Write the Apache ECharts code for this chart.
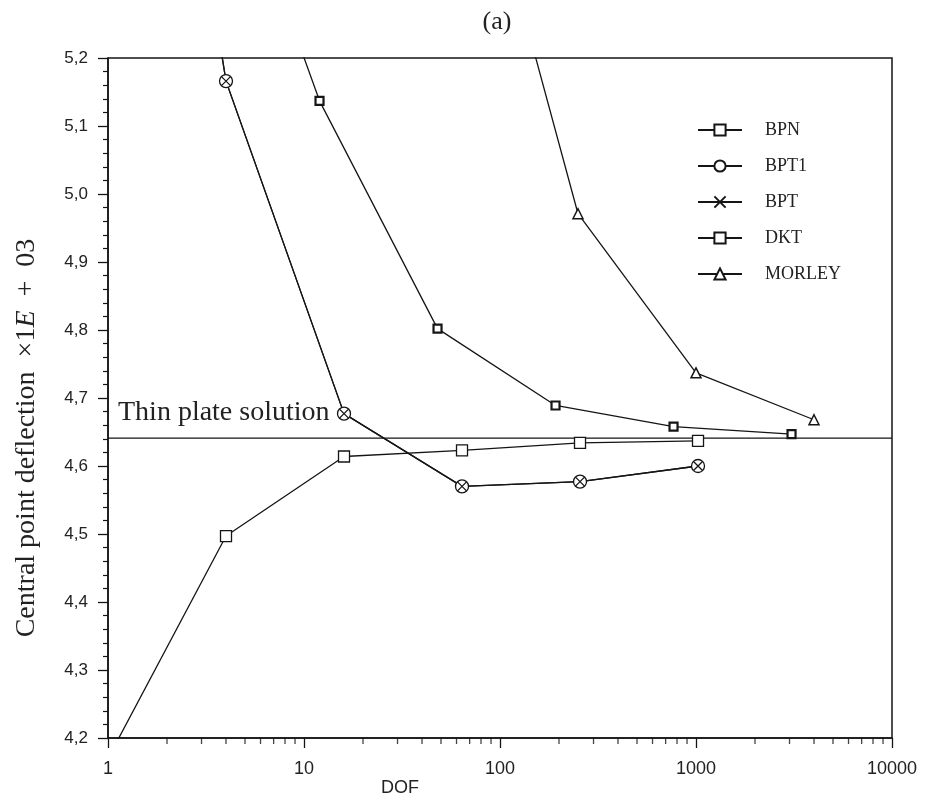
<!DOCTYPE html>
<html>
<head>
<meta charset="utf-8">
<script src="https://cdn.jsdelivr.net/npm/echarts@6/dist/echarts.min.js"></script>
<style>
html,body{margin:0;padding:0;background:#fff;}
#chart{width:936px;height:803px;}
</style>
</head>
<body>
<div id="chart"></div>
<script>
// ---- data ----
const bpnX = [1, 4, 16, 64, 256, 1024];
const bpnY = [4.17, 4.497, 4.614, 4.623, 4.634, 4.637];

const bptX = [1, 4, 16, 64, 256, 1024];
const bptY = [6.25, 5.166, 4.677, 4.570, 4.577, 4.600];

const dktX = [3, 12, 48, 192, 768, 3072];
const dktY = [5.62, 5.137, 4.802, 4.689, 4.658, 4.647];

const morleyX = [60, 250, 1000, 4000];
const morleyY = [5.63, 4.971, 4.737, 4.668];

const thinPlateX = [1, 10000];
const thinPlateY = [4.641, 4.641];

const xMinorTicks = [2,3,4,5,6,7,8,9, 20,30,40,50,60,70,80,90,
  200,300,400,500,600,700,800,900, 2000,3000,4000,5000,6000,7000,8000,9000];

const seriesNames = ['BPN', 'BPT1', 'BPT', 'DKT', 'MORLEY'];

const pair = (xs, ys) => xs.map((x, i) => [x, ys[i]]);
const ink = '#151515';

const chart = echarts.init(document.getElementById('chart'), null, {renderer: 'canvas'});

function lineSeries(name, xs, ys, symbol, size, bw) {
  return {
    name: name, type: 'line', data: pair(xs, ys),
    symbol: symbol, symbolSize: size, showSymbol: true, clip: true,
    lineStyle: {color: ink, width: 1.3},
    itemStyle: {color: '#fff', borderColor: ink, borderWidth: bw},
    emphasis: {disabled: true}
  };
}

chart.setOption({
  animation: false,
  backgroundColor: '#fff',
  grid: {left: 108, right: 44, top: 58, bottom: 65, show: true,
         borderColor: ink, borderWidth: 1.5, backgroundColor: 'transparent'},
  xAxis: {
    type: 'log', logBase: 10, min: 1, max: 10000,
    axisLine: {show: true, lineStyle: {color: ink, width: 1.5}},
    axisTick: {show: true, inside: false, length: 10, lineStyle: {color: ink, width: 1.3}},
    axisLabel: {margin: 22, fontSize: 18, fontFamily: 'Liberation Sans', color: '#222',
                formatter: v => String(Math.round(v))},
    splitLine: {show: false}, minorTick: {show: false}, minorSplitLine: {show: false}
  },
  yAxis: {
    type: 'value', min: 4.2, max: 5.2, interval: 0.1,
    axisLine: {show: true, lineStyle: {color: ink, width: 1.5}},
    axisTick: {show: true, inside: false, length: 10, lineStyle: {color: ink, width: 1.3}},
    minorTick: {show: true, splitNumber: 5, length: 5, lineStyle: {color: ink, width: 1.2}},
    axisLabel: {margin: 20, fontSize: 17, fontFamily: 'Liberation Sans', color: '#222',
                formatter: v => v.toFixed(1).replace('.', ',')},
    splitLine: {show: false}
  },
  legend: {
    data: seriesNames, orient: 'vertical', left: 692, top: 116,
    itemWidth: 44, itemHeight: 14, itemGap: 18,
    textStyle: {fontFamily: 'Liberation Serif', fontSize: 18, color: '#222', padding: [0, 0, 0, 18]},
    selectedMode: false
  },
  series: [
    lineSeries('BPN', bpnX, bpnY, 'rect', 11, 1.3),
    lineSeries('BPT1', bptX, bptY, 'circle', 13, 1.3),
    lineSeries('BPT', bptX, bptY, 'path://M0,0L10,10M10,0L0,10', 9, 1.3),
    lineSeries('DKT', dktX, dktY, 'rect', 8, 2.2),
    lineSeries('MORLEY', morleyX, morleyY, 'triangle', 10, 1.5),
    {
      name: 'Thin plate solution', type: 'line', data: pair(thinPlateX, thinPlateY),
      showSymbol: false, symbol: 'none', lineStyle: {color: ink, width: 1.3}, z: 1
    },
    {
      name: 'minor', type: 'scatter', data: xMinorTicks.map(v => [v, 4.2]),
      symbol: 'rect', symbolSize: [1.3, 6], symbolOffset: [0, 3], clip: false,
      itemStyle: {color: ink}, silent: true
    }
  ],
  graphic: [
    {type: 'text', x: 497, y: 22,
     style: {text: '(a)', font: '26px "Liberation Serif"', fill: '#222',
             textAlign: 'center', textVerticalAlign: 'middle'}},
    {type: 'text', x: 400, y: 788,
     style: {text: 'DOF', font: '18px "Liberation Sans"', fill: '#222',
             textAlign: 'center', textVerticalAlign: 'middle'}},
    {type: 'text', x: 118, y: 427,
     style: {text: 'Thin plate solution', font: '28px "Liberation Serif"', fill: '#222',
             textAlign: 'left', textVerticalAlign: 'bottom'}},
    {type: 'text', x: 27, y: 438, rotation: Math.PI / 2,
     style: {text: '{a|Central point deflection  ×1}{b|E}{a|  +  03}',
             rich: {a: {font: '28px "Liberation Serif"', fill: '#222'},
                    b: {font: 'italic 28px "Liberation Serif"', fill: '#222'}},
             textAlign: 'center', textVerticalAlign: 'middle'}}
  ]
});
</script>
</body>
</html>
